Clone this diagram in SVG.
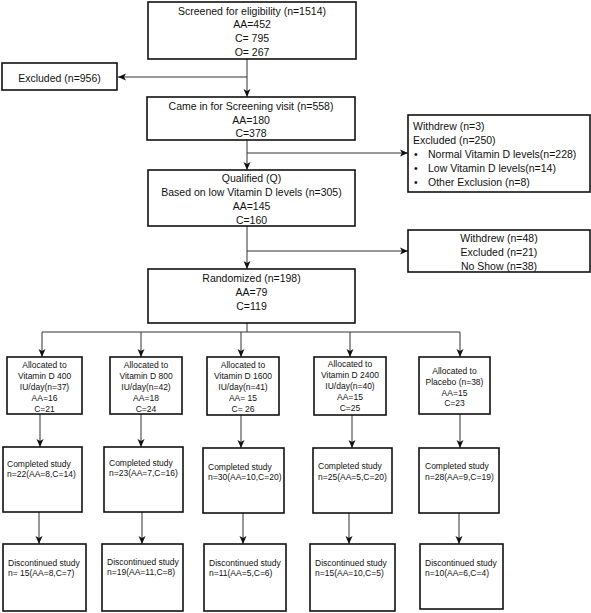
<svg xmlns="http://www.w3.org/2000/svg" width="591" height="613" viewBox="0 0 591 613">
<defs>
<marker id="ah" markerWidth="8" markerHeight="8" refX="8" refY="4" orient="auto" markerUnits="userSpaceOnUse">
<path d="M0,0.5 L8,4 L0,7.5 L2,4 Z" fill="#111"/>
</marker>
</defs>
<style>
.box{fill:#fff;stroke:#111;stroke-width:1.6}
.t{font-family:"Liberation Sans",Arial,sans-serif;font-size:10.5px;fill:#111}
.s{font-family:"Liberation Sans",Arial,sans-serif;font-size:8.5px;fill:#111}
.c{text-anchor:middle}
.ln{fill:none;stroke:#333;stroke-width:1}
.ar{fill:none;stroke:#333;stroke-width:1;marker-end:url(#ah)}
</style>
<rect width="591" height="613" fill="#fff"/>

<g id="connectors">
<line class="ar" x1="247" y1="59" x2="247" y2="97"/>
<line class="ar" x1="247" y1="77" x2="118" y2="77"/>
<line class="ar" x1="247" y1="140" x2="247" y2="170"/>
<line class="ar" x1="247" y1="153" x2="408" y2="153"/>
<line class="ar" x1="247" y1="226" x2="247" y2="269"/>
<line class="ar" x1="247" y1="251" x2="408" y2="251"/>
<line class="ln" x1="247" y1="323" x2="247" y2="332"/>
<line class="ln" x1="42" y1="332" x2="460" y2="332"/>
<line class="ar" x1="42" y1="332" x2="42" y2="357"/>
<line class="ar" x1="141" y1="332" x2="141" y2="357"/>
<line class="ar" x1="241" y1="332" x2="241" y2="357"/>
<line class="ar" x1="350" y1="332" x2="350" y2="357"/>
<line class="ar" x1="460" y1="332" x2="460" y2="357"/>
<line class="ar" x1="40" y1="414" x2="40" y2="447"/>
<line class="ar" x1="141" y1="414" x2="141" y2="447"/>
<line class="ar" x1="241" y1="415" x2="241" y2="448"/>
<line class="ar" x1="352" y1="415" x2="352" y2="448"/>
<line class="ar" x1="460" y1="414" x2="460" y2="448"/>
<line class="ar" x1="39" y1="512" x2="39" y2="544"/>
<line class="ar" x1="142" y1="512" x2="142" y2="544"/>
<line class="ar" x1="243" y1="513" x2="243" y2="544"/>
<line class="ar" x1="349" y1="513" x2="349" y2="544"/>
<line class="ar" x1="459" y1="513" x2="459" y2="544"/>
</g>

<g id="screened">
<rect class="box" x="148" y="2" width="208" height="57"/>
<text class="t c" x="252" y="14.5">Screened for eligibility (n=1514)</text>
<text class="t c" x="252" y="28">AA=452</text>
<text class="t c" x="252" y="42">C= 795</text>
<text class="t c" x="252" y="55.5">O= 267</text>
</g>

<g id="excluded1">
<rect class="box" x="2" y="63" width="115" height="27"/>
<text class="t c" x="59.5" y="81.5">Excluded (n=956)</text>
</g>

<g id="screening">
<rect class="box" x="147" y="97" width="208" height="43"/>
<text class="t c" x="251" y="110">Came in for Screening visit (n=558)</text>
<text class="t c" x="251" y="123.5">AA=180</text>
<text class="t c" x="251" y="137">C=378</text>
</g>

<g id="withdrew1">
<rect class="box" x="408" y="115" width="182" height="77"/>
<text class="t" x="413" y="130">Withdrew (n=3)</text>
<text class="t" x="413" y="144">Excluded (n=250)</text>
<text class="t" x="414" y="158">•</text>
<text class="t" x="428" y="158">Normal Vitamin D levels(n=228)</text>
<text class="t" x="414" y="172">•</text>
<text class="t" x="428" y="172">Low Vitamin D levels(n=14)</text>
<text class="t" x="414" y="186">•</text>
<text class="t" x="428" y="186">Other Exclusion (n=8)</text>
</g>

<g id="qualified">
<rect class="box" x="148" y="170" width="207" height="56"/>
<text class="t c" x="251.5" y="182">Qualified (Q)</text>
<text class="t c" x="251.5" y="196">Based on low Vitamin D levels (n=305)</text>
<text class="t c" x="251.5" y="210">AA=145</text>
<text class="t c" x="251.5" y="224">C=160</text>
</g>

<g id="withdrew2">
<rect class="box" x="408" y="230" width="182" height="42"/>
<text class="t c" x="499" y="242">Withdrew (n=48)</text>
<text class="t c" x="499" y="256">Excluded (n=21)</text>
<text class="t c" x="499" y="270">No Show (n=38)</text>
</g>

<g id="randomized">
<rect class="box" x="148" y="269" width="207" height="54"/>
<text class="t c" x="251.5" y="282">Randomized (n=198)</text>
<text class="t c" x="251.5" y="296">AA=79</text>
<text class="t c" x="251.5" y="310">C=119</text>
</g>

<g id="alloc400">
<rect class="box" x="7" y="357" width="75" height="57"/>
<text class="s c" x="44.5" y="368">Allocated to</text>
<text class="s c" x="44.5" y="379">Vitamin D 400</text>
<text class="s c" x="44.5" y="390">IU/day(n=37)</text>
<text class="s c" x="44.5" y="401">AA=16</text>
<text class="s c" x="44.5" y="412">C=21</text>
</g>

<g id="alloc800">
<rect class="box" x="110" y="357" width="72" height="57"/>
<text class="s c" x="146" y="368">Allocated to</text>
<text class="s c" x="146" y="379">Vitamin D 800</text>
<text class="s c" x="146" y="390">IU/day(n=42)</text>
<text class="s c" x="146" y="401">AA=18</text>
<text class="s c" x="146" y="412">C=24</text>
</g>

<g id="alloc1600">
<rect class="box" x="207" y="357" width="72" height="58"/>
<text class="s c" x="243" y="368">Allocated to</text>
<text class="s c" x="243" y="379">Vitamin D 1600</text>
<text class="s c" x="243" y="390">IU/day(n=41)</text>
<text class="s c" x="243" y="401">AA= 15</text>
<text class="s c" x="243" y="412">C= 26</text>
</g>

<g id="alloc2400">
<rect class="box" x="314" y="357" width="72" height="58"/>
<text class="s c" x="350" y="367">Allocated to</text>
<text class="s c" x="350" y="378">Vitamin D 2400</text>
<text class="s c" x="350" y="389">IU/day(n=40)</text>
<text class="s c" x="350" y="400">AA=15</text>
<text class="s c" x="350" y="411">C=25</text>
</g>

<g id="allocPlacebo">
<rect class="box" x="419" y="357" width="71" height="57"/>
<text class="s c" x="454.5" y="374">Allocated to</text>
<text class="s c" x="454.5" y="385">Placebo (n=38)</text>
<text class="s c" x="454.5" y="395.5">AA=15</text>
<text class="s c" x="454.5" y="406">C=23</text>
</g>

<g id="comp1">
<rect class="box" x="3" y="447" width="79" height="65"/>
<text class="s" x="7" y="467">Completed study</text>
<text class="s" x="7" y="477">n=22(AA=8,C=14)</text>
</g>
<g id="comp2">
<rect class="box" x="104" y="447" width="79" height="65"/>
<text class="s" x="109" y="466">Completed study</text>
<text class="s" x="109" y="476">n=23(AA=7,C=16)</text>
</g>
<g id="comp3">
<rect class="box" x="203" y="448" width="81" height="65"/>
<text class="s" x="208" y="470">Completed study</text>
<text class="s" x="208" y="480">n=30(AA=10,C=20)</text>
</g>
<g id="comp4">
<rect class="box" x="313" y="448" width="79" height="65"/>
<text class="s" x="318" y="469">Completed study</text>
<text class="s" x="318" y="480">n=25(AA=5,C=20)</text>
</g>
<g id="comp5">
<rect class="box" x="419" y="448" width="80" height="65"/>
<text class="s" x="425" y="469">Completed study</text>
<text class="s" x="425" y="480">n=28(AA=9,C=19)</text>
</g>

<g id="disc1">
<rect class="box" x="3" y="544" width="83" height="67"/>
<text class="s" x="8" y="566">Discontinued study</text>
<text class="s" x="8" y="576">n= 15(AA=8,C=7)</text>
</g>
<g id="disc2">
<rect class="box" x="102" y="544" width="81" height="67"/>
<text class="s" x="107" y="565">Discontinued study</text>
<text class="s" x="107" y="575">n=19(AA=11,C=8)</text>
</g>
<g id="disc3">
<rect class="box" x="204" y="544" width="82" height="67"/>
<text class="s" x="209" y="566">Discontinued study</text>
<text class="s" x="209" y="576">n=11(AA=5,C=6)</text>
</g>
<g id="disc4">
<rect class="box" x="310" y="544" width="85" height="67"/>
<text class="s" x="315" y="566">Discontinued study</text>
<text class="s" x="315" y="576">n=15(AA=10,C=5)</text>
</g>
<g id="disc5">
<rect class="box" x="420" y="544" width="83" height="65"/>
<text class="s" x="425" y="566">Discontinued study</text>
<text class="s" x="425" y="576">n=10(AA=6,C=4)</text>
</g>
</svg>
